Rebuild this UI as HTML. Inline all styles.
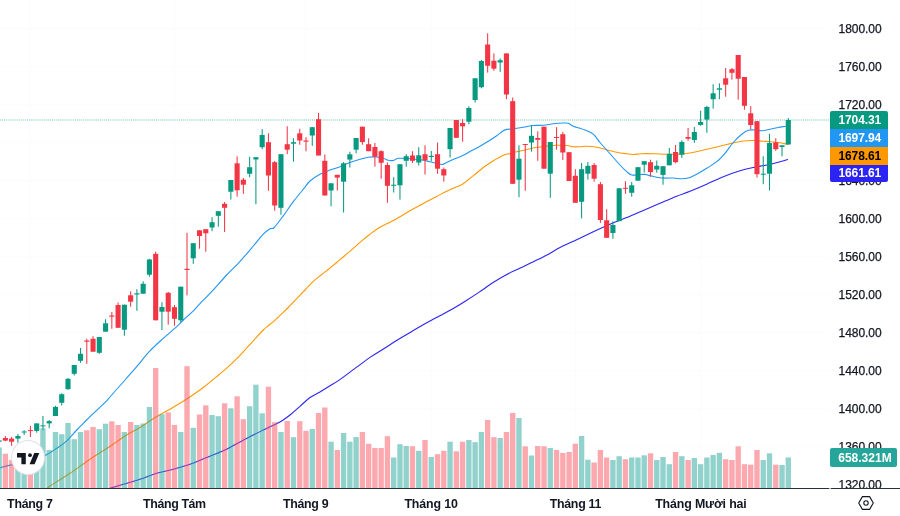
<!DOCTYPE html>
<html lang="vi"><head><meta charset="utf-8"><title>Chart</title>
<style>
html,body{margin:0;padding:0;background:#fff}
body{width:900px;height:516px;position:relative;overflow:hidden;font-family:"Liberation Sans",sans-serif;font-size:12px;color:#131722}
.pl{position:absolute;left:838.6px;width:44px;height:16px;line-height:16px;white-space:nowrap;letter-spacing:-0.07px;-webkit-text-stroke:0.25px #131722}
.tag{position:absolute;left:829.6px;width:58.4px;box-sizing:border-box;padding-left:8.9px;font-weight:bold;color:#fff;white-space:nowrap;letter-spacing:-0.12px;padding-top:0.4px}
.tl{position:absolute;top:495.6px;height:16px;line-height:16px;font-size:12.4px;font-weight:bold;white-space:nowrap;transform:translateX(-50%);letter-spacing:-0.25px}
#bottom{position:absolute;left:0;top:488px;width:900px;height:28px;background:#fff;border-top:1px solid #2A2E39;box-sizing:border-box}
#logo{position:absolute;left:11px;top:440.2px;width:34.4px;height:35px;border-radius:50%;background:#fff;box-sizing:border-box;border:1.5px solid #E0E0EC}
</style></head><body>
<svg width="900" height="516" viewBox="0 0 900 516" style="position:absolute;left:0;top:0;display:block">
<g stroke="#FBFCFE" stroke-width="1.04">
<line x1="0" y1="28.8" x2="830" y2="28.8"/>
<line x1="0" y1="66.8" x2="830" y2="66.8"/>
<line x1="0" y1="104.8" x2="830" y2="104.8"/>
<line x1="0" y1="142.8" x2="830" y2="142.8"/>
<line x1="0" y1="180.8" x2="830" y2="180.8"/>
<line x1="0" y1="218.8" x2="830" y2="218.8"/>
<line x1="0" y1="256.8" x2="830" y2="256.8"/>
<line x1="0" y1="294.8" x2="830" y2="294.8"/>
<line x1="0" y1="332.8" x2="830" y2="332.8"/>
<line x1="0" y1="370.8" x2="830" y2="370.8"/>
<line x1="0" y1="408.8" x2="830" y2="408.8"/>
<line x1="0" y1="446.8" x2="830" y2="446.8"/>
<line x1="0" y1="484.8" x2="830" y2="484.8"/>
<line x1="29.9" y1="0" x2="29.9" y2="488"/>
<line x1="174.4" y1="0" x2="174.4" y2="488"/>
<line x1="305.7" y1="0" x2="305.7" y2="488"/>
<line x1="431.1" y1="0" x2="431.1" y2="488"/>
<line x1="575.4" y1="0" x2="575.4" y2="488"/>
<line x1="700.9" y1="0" x2="700.9" y2="488"/>
</g>
<line x1="0" y1="120" x2="830" y2="120" stroke="#089981" stroke-width="1.5" stroke-dasharray="1.04 1.04" opacity="0.4"/>
<path d="M109.0 488.5C109.2 488.5 107.6 489.0 110.0 488.3C112.4 487.6 118.3 485.7 123.3 484.2C128.3 482.7 134.4 481.0 140.0 479.2C145.6 477.4 151.1 475.0 156.7 473.3C162.2 471.6 167.8 470.7 173.3 469.2C178.9 467.7 184.4 466.1 190.0 464.2C195.6 462.2 201.1 459.7 206.7 457.5C212.2 455.3 219.0 452.7 223.3 450.8C227.6 448.9 228.3 448.2 232.5 446.0C236.7 443.8 242.9 440.3 248.3 437.5C253.7 434.7 259.7 431.8 265.0 429.2C270.3 426.6 275.8 424.4 280.0 422.0C284.2 419.6 286.7 417.6 290.0 415.0C293.3 412.4 296.7 409.2 300.0 406.3C303.3 403.4 306.7 399.9 310.0 397.5C313.3 395.1 316.7 393.9 320.0 392.0C323.3 390.1 326.8 387.8 330.0 385.8C333.2 383.8 335.0 383.0 339.5 379.9C344.0 376.8 351.9 370.7 357.1 366.9C362.3 363.1 366.2 360.0 370.7 356.9C375.2 353.8 379.7 351.4 384.2 348.5C388.7 345.6 393.3 342.6 397.8 339.8C402.3 337.0 406.9 334.4 411.4 331.7C415.9 329.0 420.4 326.3 424.9 323.8C429.4 321.3 434.0 318.9 438.5 316.5C443.0 314.1 447.5 311.8 452.0 309.2C456.5 306.6 461.1 303.9 465.6 301.0C470.1 298.1 474.7 295.1 479.2 292.1C483.7 289.1 488.2 285.7 492.7 282.8C497.2 279.9 501.8 277.1 506.3 274.7C510.8 272.3 515.3 270.4 519.8 268.2C524.3 266.0 528.9 263.9 533.4 261.7C537.9 259.5 542.5 257.3 547.0 254.9C551.5 252.5 555.5 249.8 560.5 247.3C565.5 244.8 571.2 242.3 576.7 239.7C582.2 237.1 587.8 234.3 593.3 231.7C598.8 229.1 604.4 226.6 610.0 224.2C615.6 221.8 621.2 219.8 626.7 217.5C632.2 215.2 637.8 212.9 643.3 210.5C648.8 208.1 654.4 205.7 660.0 203.3C665.6 200.9 671.7 198.2 676.7 196.2C681.7 194.2 685.0 193.2 690.0 191.2C695.0 189.2 701.2 186.6 706.7 184.2C712.2 181.8 717.8 178.9 723.3 176.7C728.8 174.5 735.0 172.3 740.0 170.8C745.0 169.3 748.8 168.5 753.3 167.5C757.8 166.5 762.5 165.9 766.7 165.0C770.9 164.1 774.8 163.1 778.3 162.2C781.8 161.3 786.4 159.9 788.0 159.5" fill="none" stroke="#2B24F5" stroke-width="1.1" stroke-linejoin="round"/>
<path d="M47.5 488.5C47.9 488.1 46.2 488.5 50.0 486.0C53.8 483.5 63.3 477.8 70.0 473.3C76.7 468.8 83.6 463.5 90.0 459.2C96.4 454.9 102.2 451.5 108.3 447.5C114.4 443.5 121.4 438.3 126.7 435.0C132.0 431.7 135.8 430.1 140.0 427.5C144.2 424.9 148.1 422.0 151.7 419.7C155.3 417.4 158.1 415.8 161.7 413.7C165.3 411.6 168.9 409.8 173.3 407.2C177.7 404.6 183.3 401.3 188.3 398.0C193.3 394.7 198.6 391.1 203.3 387.5C208.0 383.9 212.5 380.2 216.7 376.7C220.9 373.2 224.4 370.3 228.3 366.7C232.2 363.1 236.9 358.4 240.0 355.3C243.1 352.2 244.2 350.8 246.7 348.0C249.2 345.2 252.2 341.8 255.0 338.8C257.8 335.8 261.2 332.1 263.3 330.0C265.4 327.9 265.8 327.7 267.5 326.3C269.2 324.9 271.2 323.5 273.3 321.7C275.4 319.9 277.5 317.7 280.0 315.3C282.5 312.9 285.5 310.3 288.3 307.5C291.1 304.7 293.9 301.6 296.7 298.7C299.5 295.8 302.2 292.9 305.0 290.0C307.8 287.1 310.5 283.9 313.3 281.3C316.1 278.7 319.2 276.5 321.7 274.5C324.2 272.5 326.0 271.3 328.5 269.3C331.0 267.3 333.9 264.8 336.7 262.5C339.4 260.2 342.2 257.9 345.0 255.5C347.8 253.1 350.5 250.8 353.3 248.3C356.1 245.9 358.9 243.2 361.7 240.8C364.5 238.5 367.2 236.3 370.0 234.2C372.8 232.1 375.5 230.0 378.3 228.3C381.1 226.6 383.9 225.2 386.7 223.8C389.5 222.4 392.2 221.2 395.0 219.7C397.8 218.2 400.5 216.4 403.3 214.7C406.1 213.0 408.9 211.3 411.7 209.7C414.5 208.1 417.2 206.8 420.0 205.3C422.8 203.8 425.5 202.3 428.3 200.8C431.1 199.3 433.6 198.1 436.7 196.5C439.8 194.9 443.6 192.8 446.7 191.3C449.8 189.8 452.5 188.6 455.0 187.5C457.5 186.4 459.5 186.0 461.7 184.7C463.9 183.4 465.8 181.6 468.3 179.7C470.8 177.8 473.9 175.2 476.7 173.0C479.5 170.8 482.2 168.3 485.0 166.3C487.8 164.3 490.8 162.4 493.3 160.8C495.8 159.2 498.1 157.9 500.0 156.9C501.9 155.9 503.3 155.2 505.0 154.6C506.7 154.0 508.1 154.1 510.0 153.6C511.9 153.1 514.2 152.4 516.7 151.8C519.2 151.2 522.2 150.6 525.0 150.0C527.8 149.4 530.8 148.5 533.3 148.0C535.8 147.5 537.5 147.3 540.0 147.0C542.5 146.7 545.3 146.3 548.0 146.0C550.7 145.7 552.9 145.4 556.0 145.3C559.1 145.2 563.8 145.2 566.7 145.5C569.6 145.8 571.1 146.6 573.3 146.8C575.5 147.0 577.8 146.8 580.0 146.7C582.2 146.6 583.9 146.1 586.7 146.2C589.5 146.3 593.4 146.6 596.7 147.2C600.0 147.8 603.4 148.9 606.7 149.7C610.0 150.5 613.4 151.5 616.7 152.2C620.0 152.9 623.9 153.4 626.7 153.8C629.5 154.2 630.8 154.5 633.3 154.5C635.8 154.5 638.4 153.8 641.7 153.7C645.0 153.6 649.1 153.6 653.3 153.7C657.5 153.8 662.5 154.1 666.7 154.2C670.9 154.3 674.4 154.4 678.3 154.2C682.2 154.0 686.1 153.6 690.0 153.0C693.9 152.4 697.8 151.4 701.7 150.5C705.6 149.6 709.1 148.8 713.3 147.8C717.5 146.8 722.8 145.4 726.7 144.5C730.6 143.6 733.4 142.8 736.7 142.2C740.0 141.6 743.7 141.1 746.7 140.8C749.8 140.5 752.2 140.4 755.0 140.5C757.8 140.6 760.5 141.0 763.3 141.2C766.1 141.4 768.9 141.4 771.7 141.7C774.5 141.9 777.5 142.3 780.0 142.7C782.5 143.1 785.4 143.9 786.7 144.2C788.0 144.5 787.8 144.4 788.0 144.5" fill="none" stroke="#FF9800" stroke-width="1.1" stroke-linejoin="round"/>
<path d="M0.0 467.8C1.9 467.3 6.6 466.0 11.6 464.9C16.6 463.8 24.3 462.6 30.0 461.0C35.7 459.4 41.4 457.1 45.9 455.0C50.4 452.9 53.2 450.7 56.7 448.3C60.2 445.9 63.4 443.9 66.7 440.8C70.0 437.8 73.4 433.5 76.7 430.0C80.0 426.5 83.4 423.3 86.7 420.0C90.0 416.7 93.4 413.5 96.7 410.3C100.0 407.1 104.4 403.2 106.7 400.8C109.0 398.4 107.8 399.5 110.8 396.0C113.8 392.5 120.7 384.9 125.0 380.0C129.3 375.1 132.7 371.4 136.7 366.7C140.7 362.0 144.8 356.4 149.2 351.7C153.6 347.0 158.7 342.5 163.3 338.3C167.9 334.1 173.4 329.8 176.7 326.7C180.0 323.6 180.5 322.6 183.3 320.0C186.1 317.4 190.5 313.5 193.3 310.8C196.1 308.1 196.9 306.8 200.0 303.6C203.1 300.4 207.2 296.5 211.7 291.7C216.1 286.9 222.3 279.7 226.7 275.0C231.1 270.3 234.4 267.5 238.3 263.3C242.2 259.1 247.5 252.9 250.0 250.0C252.5 247.1 251.1 248.6 253.3 246.0C255.5 243.4 260.5 237.1 263.3 234.2C266.1 231.3 268.2 229.8 270.0 228.7C271.8 227.6 272.0 229.7 274.2 227.5C276.4 225.3 280.1 220.1 283.3 215.8C286.5 211.5 290.0 206.1 293.3 201.7C296.6 197.3 300.5 192.6 303.3 189.2C306.1 185.8 307.2 183.5 310.0 181.0C312.8 178.5 316.7 176.1 320.0 174.3C323.3 172.5 326.7 171.3 330.0 170.0C333.3 168.7 336.7 167.9 340.0 166.7C343.3 165.4 346.7 163.8 350.0 162.5C353.3 161.2 356.9 160.1 360.0 159.2C363.1 158.3 365.5 157.6 368.3 157.2C371.1 156.8 374.2 156.8 376.7 157.0C379.2 157.2 381.4 157.8 383.3 158.3C385.2 158.9 386.6 159.9 388.3 160.3C390.0 160.7 391.6 160.8 393.3 160.5C395.0 160.2 395.5 158.6 398.3 158.3C401.1 158.0 406.4 158.5 410.0 158.7C413.6 158.9 416.7 159.2 420.0 159.7C423.3 160.2 427.2 161.1 430.0 161.7C432.8 162.3 434.6 162.9 436.7 163.4C438.8 163.9 440.8 164.6 442.5 164.4C444.2 164.2 444.6 163.4 446.7 162.5C448.8 161.6 452.2 159.9 455.0 158.7C457.8 157.5 460.5 156.7 463.3 155.3C466.1 154.0 468.9 152.1 471.7 150.6C474.5 149.1 477.2 147.8 480.0 146.2C482.8 144.6 485.5 143.0 488.3 141.3C491.1 139.6 494.3 137.5 496.7 135.8C499.1 134.1 500.9 132.4 502.5 131.3C504.1 130.2 504.7 129.8 506.5 129.4C508.3 129.0 510.5 129.2 513.3 128.8C516.1 128.4 520.0 127.8 523.3 127.2C526.6 126.7 530.0 125.8 533.3 125.5C536.6 125.2 540.0 125.6 543.3 125.3C546.6 125.0 550.0 124.2 553.3 123.8C556.6 123.4 560.8 123.1 563.3 123.0C565.8 122.9 566.6 122.8 568.3 123.3C570.0 123.8 571.3 125.5 573.3 126.3C575.2 127.1 578.0 127.7 580.0 128.3C582.0 128.9 582.8 129.0 585.0 130.0C587.2 131.0 590.8 132.1 593.3 134.2C595.8 136.3 597.8 139.9 600.0 142.5C602.2 145.1 604.5 147.5 606.7 150.0C608.9 152.5 611.1 155.0 613.3 157.5C615.5 160.0 617.8 162.6 620.0 165.0C622.2 167.4 624.8 170.0 626.7 171.7C628.7 173.4 629.8 174.5 631.7 175.0C633.6 175.5 636.1 174.8 638.3 174.7C640.5 174.6 643.0 174.2 645.0 174.4C647.0 174.6 647.2 175.0 650.0 175.6C652.8 176.2 657.8 177.6 661.7 178.0C665.6 178.4 670.0 177.9 673.3 178.0C676.6 178.1 679.2 178.8 681.7 178.8C684.2 178.8 685.8 178.8 688.3 178.0C690.8 177.2 693.6 175.8 696.7 174.2C699.8 172.6 703.4 170.4 706.7 168.3C710.0 166.2 713.7 164.2 716.7 161.7C719.8 159.2 722.2 156.5 725.0 153.3C727.8 150.1 730.5 145.7 733.3 142.5C736.1 139.3 739.2 136.2 741.7 134.2C744.2 132.2 746.1 131.0 748.3 130.3C750.5 129.6 752.8 129.9 755.0 130.0C757.2 130.1 759.2 130.9 761.7 130.8C764.2 130.7 767.2 129.8 770.0 129.2C772.8 128.6 775.7 128.0 778.3 127.5C780.9 127.0 784.2 126.5 785.8 126.2C787.4 125.9 787.6 125.9 788.0 125.8" fill="none" stroke="#2196F3" stroke-width="1.1" stroke-linejoin="round"/>
<g>
<rect x="-1.42" y="439.5" width="1.04" height="3.0" fill="#089981"/>
<rect x="-3.45" y="440.4" width="5.1" height="1.3" fill="#089981"/>
<rect x="4.84" y="436.0" width="1.04" height="5.3" fill="#F23645"/>
<rect x="2.81" y="438.0" width="5.1" height="2.6" fill="#F23645"/>
<rect x="11.10" y="437.0" width="1.04" height="8.8" fill="#F23645"/>
<rect x="9.07" y="438.6" width="5.1" height="3.1" fill="#F23645"/>
<rect x="17.37" y="434.0" width="1.04" height="8.7" fill="#089981"/>
<rect x="15.34" y="436.0" width="5.1" height="2.6" fill="#089981"/>
<rect x="23.63" y="430.2" width="1.04" height="4.8" fill="#089981"/>
<rect x="21.60" y="431.5" width="5.1" height="1.0" fill="#089981"/>
<rect x="29.89" y="425.9" width="1.04" height="11.1" fill="#F23645"/>
<rect x="27.86" y="430.1" width="5.1" height="1.0" fill="#F23645"/>
<rect x="36.16" y="423.4" width="1.04" height="9.2" fill="#089981"/>
<rect x="34.13" y="423.4" width="5.1" height="7.5" fill="#089981"/>
<rect x="42.42" y="416.0" width="1.04" height="14.2" fill="#089981"/>
<rect x="40.39" y="425.4" width="5.1" height="1.0" fill="#089981"/>
<rect x="48.68" y="420.0" width="1.04" height="8.2" fill="#089981"/>
<rect x="46.65" y="421.1" width="5.1" height="2.3" fill="#089981"/>
<rect x="54.95" y="405.8" width="1.04" height="10.2" fill="#089981"/>
<rect x="52.92" y="406.9" width="5.1" height="9.1" fill="#089981"/>
<rect x="61.21" y="393.3" width="1.04" height="12.2" fill="#089981"/>
<rect x="59.18" y="394.2" width="5.1" height="8.6" fill="#089981"/>
<rect x="67.48" y="378.0" width="1.04" height="11.7" fill="#089981"/>
<rect x="65.45" y="378.8" width="5.1" height="10.4" fill="#089981"/>
<rect x="73.74" y="365.0" width="1.04" height="10.5" fill="#089981"/>
<rect x="71.71" y="365.0" width="5.1" height="8.8" fill="#089981"/>
<rect x="80.00" y="348.0" width="1.04" height="14.8" fill="#089981"/>
<rect x="77.97" y="353.8" width="5.1" height="7.0" fill="#089981"/>
<rect x="86.27" y="338.8" width="1.04" height="25.0" fill="#F23645"/>
<rect x="84.24" y="340.5" width="5.1" height="1.2" fill="#F23645"/>
<rect x="92.53" y="336.2" width="1.04" height="15.5" fill="#F23645"/>
<rect x="90.50" y="338.8" width="5.1" height="12.9" fill="#F23645"/>
<rect x="98.79" y="337.0" width="1.04" height="16.8" fill="#089981"/>
<rect x="96.76" y="337.0" width="5.1" height="15.8" fill="#089981"/>
<rect x="105.06" y="319.2" width="1.04" height="12.5" fill="#089981"/>
<rect x="103.03" y="323.3" width="5.1" height="8.4" fill="#089981"/>
<rect x="111.32" y="312.0" width="1.04" height="16.8" fill="#F23645"/>
<rect x="109.29" y="315.5" width="5.1" height="1.2" fill="#F23645"/>
<rect x="117.58" y="302.5" width="1.04" height="25.3" fill="#F23645"/>
<rect x="115.55" y="305.0" width="5.1" height="22.8" fill="#F23645"/>
<rect x="123.85" y="304.7" width="1.04" height="31.1" fill="#089981"/>
<rect x="121.82" y="304.7" width="5.1" height="25.0" fill="#089981"/>
<rect x="130.11" y="291.3" width="1.04" height="15.4" fill="#F23645"/>
<rect x="128.08" y="295.3" width="5.1" height="6.4" fill="#F23645"/>
<rect x="136.37" y="289.2" width="1.04" height="21.6" fill="#089981"/>
<rect x="134.34" y="293.3" width="5.1" height="1.2" fill="#089981"/>
<rect x="142.64" y="281.3" width="1.04" height="12.4" fill="#089981"/>
<rect x="140.61" y="283.8" width="5.1" height="9.9" fill="#089981"/>
<rect x="148.90" y="258.8" width="1.04" height="17.9" fill="#089981"/>
<rect x="146.87" y="259.5" width="5.1" height="15.2" fill="#089981"/>
<rect x="155.16" y="251.7" width="1.04" height="68.6" fill="#F23645"/>
<rect x="153.13" y="253.8" width="5.1" height="66.5" fill="#F23645"/>
<rect x="161.43" y="302.2" width="1.04" height="27.8" fill="#089981"/>
<rect x="159.40" y="307.0" width="5.1" height="4.7" fill="#089981"/>
<rect x="167.69" y="292.0" width="1.04" height="32.7" fill="#F23645"/>
<rect x="165.66" y="292.8" width="5.1" height="18.9" fill="#F23645"/>
<rect x="173.95" y="305.0" width="1.04" height="20.8" fill="#F23645"/>
<rect x="171.92" y="307.2" width="5.1" height="11.6" fill="#F23645"/>
<rect x="180.22" y="286.7" width="1.04" height="35.3" fill="#089981"/>
<rect x="178.19" y="286.7" width="5.1" height="33.6" fill="#089981"/>
<rect x="186.48" y="232.8" width="1.04" height="62.5" fill="#F23645"/>
<rect x="184.45" y="268.8" width="5.1" height="1.2" fill="#F23645"/>
<rect x="192.75" y="243.2" width="1.04" height="20.6" fill="#089981"/>
<rect x="190.72" y="243.2" width="5.1" height="15.1" fill="#089981"/>
<rect x="199.01" y="230.3" width="1.04" height="18.4" fill="#F23645"/>
<rect x="196.98" y="230.3" width="5.1" height="5.7" fill="#F23645"/>
<rect x="205.27" y="229.2" width="1.04" height="22.5" fill="#F23645"/>
<rect x="203.24" y="229.2" width="5.1" height="4.1" fill="#F23645"/>
<rect x="211.54" y="217.2" width="1.04" height="14.0" fill="#089981"/>
<rect x="209.51" y="222.2" width="5.1" height="5.3" fill="#089981"/>
<rect x="217.80" y="211.2" width="1.04" height="15.5" fill="#089981"/>
<rect x="215.77" y="211.2" width="5.1" height="4.6" fill="#089981"/>
<rect x="224.06" y="202.0" width="1.04" height="30.0" fill="#F23645"/>
<rect x="222.03" y="203.8" width="5.1" height="4.0" fill="#F23645"/>
<rect x="230.33" y="180.0" width="1.04" height="19.5" fill="#089981"/>
<rect x="228.30" y="180.0" width="5.1" height="11.7" fill="#089981"/>
<rect x="236.59" y="156.3" width="1.04" height="40.4" fill="#F23645"/>
<rect x="234.56" y="163.3" width="5.1" height="27.0" fill="#F23645"/>
<rect x="242.85" y="178.0" width="1.04" height="15.8" fill="#F23645"/>
<rect x="240.82" y="179.7" width="5.1" height="5.0" fill="#F23645"/>
<rect x="249.12" y="156.7" width="1.04" height="20.5" fill="#089981"/>
<rect x="247.09" y="167.2" width="5.1" height="6.6" fill="#089981"/>
<rect x="255.38" y="157.2" width="1.04" height="47.0" fill="#089981"/>
<rect x="253.35" y="157.2" width="5.1" height="2.3" fill="#089981"/>
<rect x="261.64" y="129.2" width="1.04" height="20.0" fill="#089981"/>
<rect x="259.61" y="135.0" width="5.1" height="12.2" fill="#089981"/>
<rect x="267.91" y="133.3" width="1.04" height="57.5" fill="#F23645"/>
<rect x="265.88" y="142.2" width="5.1" height="33.3" fill="#F23645"/>
<rect x="274.17" y="161.0" width="1.04" height="49.8" fill="#F23645"/>
<rect x="272.14" y="162.2" width="5.1" height="43.3" fill="#F23645"/>
<rect x="280.43" y="154.2" width="1.04" height="60.5" fill="#089981"/>
<rect x="278.40" y="154.2" width="5.1" height="53.6" fill="#089981"/>
<rect x="286.70" y="126.3" width="1.04" height="27.9" fill="#F23645"/>
<rect x="284.67" y="144.2" width="5.1" height="5.5" fill="#F23645"/>
<rect x="292.96" y="138.3" width="1.04" height="23.4" fill="#089981"/>
<rect x="290.93" y="142.2" width="5.1" height="1.5" fill="#089981"/>
<rect x="299.22" y="128.8" width="1.04" height="15.9" fill="#F23645"/>
<rect x="297.19" y="133.3" width="5.1" height="7.2" fill="#F23645"/>
<rect x="305.49" y="137.2" width="1.04" height="14.1" fill="#F23645"/>
<rect x="303.46" y="140.5" width="5.1" height="1.2" fill="#F23645"/>
<rect x="311.75" y="127.2" width="1.04" height="18.6" fill="#089981"/>
<rect x="309.72" y="127.2" width="5.1" height="8.3" fill="#089981"/>
<rect x="318.01" y="112.8" width="1.04" height="42.7" fill="#F23645"/>
<rect x="315.98" y="119.2" width="5.1" height="36.3" fill="#F23645"/>
<rect x="324.28" y="154.5" width="1.04" height="41.0" fill="#F23645"/>
<rect x="322.25" y="160.8" width="5.1" height="34.7" fill="#F23645"/>
<rect x="330.54" y="183.3" width="1.04" height="23.0" fill="#089981"/>
<rect x="328.51" y="183.3" width="5.1" height="7.2" fill="#089981"/>
<rect x="336.81" y="174.8" width="1.04" height="15.7" fill="#F23645"/>
<rect x="334.78" y="174.8" width="5.1" height="2.8" fill="#F23645"/>
<rect x="343.07" y="162.0" width="1.04" height="50.5" fill="#089981"/>
<rect x="341.04" y="163.3" width="5.1" height="18.4" fill="#089981"/>
<rect x="349.33" y="151.7" width="1.04" height="15.8" fill="#089981"/>
<rect x="347.30" y="154.3" width="5.1" height="5.3" fill="#089981"/>
<rect x="355.60" y="138.0" width="1.04" height="15.3" fill="#089981"/>
<rect x="353.57" y="138.0" width="5.1" height="11.7" fill="#089981"/>
<rect x="361.86" y="126.7" width="1.04" height="18.1" fill="#F23645"/>
<rect x="359.83" y="126.7" width="5.1" height="15.4" fill="#F23645"/>
<rect x="368.12" y="138.3" width="1.04" height="12.9" fill="#F23645"/>
<rect x="366.09" y="144.2" width="5.1" height="7.0" fill="#F23645"/>
<rect x="374.39" y="143.0" width="1.04" height="23.7" fill="#F23645"/>
<rect x="372.36" y="147.0" width="5.1" height="9.7" fill="#F23645"/>
<rect x="380.65" y="150.3" width="1.04" height="28.5" fill="#F23645"/>
<rect x="378.62" y="151.2" width="5.1" height="11.6" fill="#F23645"/>
<rect x="386.91" y="162.5" width="1.04" height="40.3" fill="#F23645"/>
<rect x="384.88" y="165.0" width="5.1" height="20.8" fill="#F23645"/>
<rect x="393.18" y="177.2" width="1.04" height="15.3" fill="#089981"/>
<rect x="391.15" y="184.7" width="5.1" height="1.1" fill="#089981"/>
<rect x="399.44" y="164.2" width="1.04" height="35.5" fill="#089981"/>
<rect x="397.41" y="164.2" width="5.1" height="21.1" fill="#089981"/>
<rect x="405.70" y="154.2" width="1.04" height="12.5" fill="#089981"/>
<rect x="403.67" y="156.2" width="5.1" height="4.6" fill="#089981"/>
<rect x="411.97" y="151.2" width="1.04" height="11.8" fill="#F23645"/>
<rect x="409.94" y="155.5" width="5.1" height="5.3" fill="#F23645"/>
<rect x="418.23" y="147.2" width="1.04" height="18.3" fill="#089981"/>
<rect x="416.20" y="155.3" width="5.1" height="7.2" fill="#089981"/>
<rect x="424.49" y="145.3" width="1.04" height="29.2" fill="#F23645"/>
<rect x="422.46" y="154.2" width="5.1" height="6.1" fill="#F23645"/>
<rect x="430.76" y="151.0" width="1.04" height="10.3" fill="#089981"/>
<rect x="428.73" y="155.8" width="5.1" height="1.2" fill="#089981"/>
<rect x="437.02" y="142.6" width="1.04" height="31.2" fill="#F23645"/>
<rect x="434.99" y="154.2" width="5.1" height="14.5" fill="#F23645"/>
<rect x="443.29" y="167.5" width="1.04" height="14.2" fill="#F23645"/>
<rect x="441.25" y="169.2" width="5.1" height="6.3" fill="#F23645"/>
<rect x="449.55" y="128.0" width="1.04" height="29.5" fill="#089981"/>
<rect x="447.52" y="128.0" width="5.1" height="21.2" fill="#089981"/>
<rect x="455.81" y="120.0" width="1.04" height="17.8" fill="#F23645"/>
<rect x="453.78" y="120.0" width="5.1" height="17.8" fill="#F23645"/>
<rect x="462.08" y="119.2" width="1.04" height="22.5" fill="#F23645"/>
<rect x="460.05" y="123.0" width="5.1" height="3.3" fill="#F23645"/>
<rect x="468.34" y="106.3" width="1.04" height="17.9" fill="#089981"/>
<rect x="466.31" y="108.0" width="5.1" height="13.7" fill="#089981"/>
<rect x="474.60" y="78.3" width="1.04" height="24.2" fill="#089981"/>
<rect x="472.57" y="78.3" width="5.1" height="21.7" fill="#089981"/>
<rect x="480.87" y="59.9" width="1.04" height="28.4" fill="#089981"/>
<rect x="478.84" y="61.0" width="5.1" height="26.2" fill="#089981"/>
<rect x="487.13" y="33.3" width="1.04" height="39.3" fill="#F23645"/>
<rect x="485.10" y="44.5" width="5.1" height="21.3" fill="#F23645"/>
<rect x="493.39" y="53.4" width="1.04" height="17.4" fill="#F23645"/>
<rect x="491.36" y="60.7" width="5.1" height="8.0" fill="#F23645"/>
<rect x="499.66" y="58.4" width="1.04" height="13.5" fill="#089981"/>
<rect x="497.63" y="60.2" width="5.1" height="2.3" fill="#089981"/>
<rect x="505.92" y="53.4" width="1.04" height="45.8" fill="#F23645"/>
<rect x="503.89" y="53.4" width="5.1" height="41.1" fill="#F23645"/>
<rect x="512.18" y="97.5" width="1.04" height="86.3" fill="#F23645"/>
<rect x="510.15" y="101.2" width="5.1" height="82.6" fill="#F23645"/>
<rect x="518.45" y="145.3" width="1.04" height="51.9" fill="#089981"/>
<rect x="516.42" y="158.7" width="5.1" height="21.0" fill="#089981"/>
<rect x="524.71" y="144.0" width="1.04" height="46.8" fill="#F23645"/>
<rect x="522.68" y="144.0" width="5.1" height="1.0" fill="#F23645"/>
<rect x="530.97" y="125.3" width="1.04" height="26.4" fill="#089981"/>
<rect x="528.94" y="135.8" width="5.1" height="6.7" fill="#089981"/>
<rect x="537.24" y="131.3" width="1.04" height="29.5" fill="#F23645"/>
<rect x="535.21" y="138.0" width="5.1" height="1.8" fill="#F23645"/>
<rect x="543.50" y="126.7" width="1.04" height="42.0" fill="#F23645"/>
<rect x="541.47" y="126.7" width="5.1" height="42.0" fill="#F23645"/>
<rect x="549.76" y="142.0" width="1.04" height="55.8" fill="#089981"/>
<rect x="547.73" y="142.0" width="5.1" height="31.7" fill="#089981"/>
<rect x="556.03" y="127.2" width="1.04" height="22.5" fill="#F23645"/>
<rect x="554.00" y="137.0" width="5.1" height="1.0" fill="#F23645"/>
<rect x="562.29" y="132.0" width="1.04" height="28.0" fill="#F23645"/>
<rect x="560.26" y="134.2" width="5.1" height="18.3" fill="#F23645"/>
<rect x="568.55" y="152.2" width="1.04" height="28.8" fill="#F23645"/>
<rect x="566.52" y="152.2" width="5.1" height="28.8" fill="#F23645"/>
<rect x="574.82" y="169.2" width="1.04" height="33.6" fill="#F23645"/>
<rect x="572.79" y="175.8" width="5.1" height="27.0" fill="#F23645"/>
<rect x="581.08" y="163.0" width="1.04" height="55.3" fill="#089981"/>
<rect x="579.05" y="169.2" width="5.1" height="32.6" fill="#089981"/>
<rect x="587.35" y="162.0" width="1.04" height="17.6" fill="#089981"/>
<rect x="585.32" y="165.8" width="5.1" height="7.9" fill="#089981"/>
<rect x="593.61" y="163.0" width="1.04" height="18.7" fill="#F23645"/>
<rect x="591.58" y="165.0" width="5.1" height="13.7" fill="#F23645"/>
<rect x="599.87" y="182.0" width="1.04" height="41.0" fill="#F23645"/>
<rect x="597.84" y="184.2" width="5.1" height="35.8" fill="#F23645"/>
<rect x="606.14" y="209.2" width="1.04" height="28.6" fill="#F23645"/>
<rect x="604.11" y="220.3" width="5.1" height="17.5" fill="#F23645"/>
<rect x="612.40" y="221.3" width="1.04" height="17.5" fill="#089981"/>
<rect x="610.37" y="225.0" width="5.1" height="8.0" fill="#089981"/>
<rect x="618.66" y="188.3" width="1.04" height="32.9" fill="#089981"/>
<rect x="616.63" y="188.3" width="5.1" height="32.9" fill="#089981"/>
<rect x="624.93" y="181.3" width="1.04" height="12.5" fill="#F23645"/>
<rect x="622.90" y="187.8" width="5.1" height="1.0" fill="#F23645"/>
<rect x="631.19" y="182.0" width="1.04" height="14.7" fill="#089981"/>
<rect x="629.16" y="185.3" width="5.1" height="7.5" fill="#089981"/>
<rect x="637.45" y="167.2" width="1.04" height="13.5" fill="#089981"/>
<rect x="635.42" y="167.2" width="5.1" height="13.5" fill="#089981"/>
<rect x="643.72" y="161.2" width="1.04" height="11.3" fill="#089981"/>
<rect x="641.69" y="161.2" width="5.1" height="3.5" fill="#089981"/>
<rect x="649.98" y="159.7" width="1.04" height="17.0" fill="#F23645"/>
<rect x="647.95" y="162.2" width="5.1" height="9.9" fill="#F23645"/>
<rect x="656.24" y="160.5" width="1.04" height="12.2" fill="#089981"/>
<rect x="654.21" y="165.8" width="5.1" height="3.7" fill="#089981"/>
<rect x="662.51" y="166.2" width="1.04" height="18.5" fill="#089981"/>
<rect x="660.48" y="166.2" width="5.1" height="8.7" fill="#089981"/>
<rect x="668.77" y="148.0" width="1.04" height="17.3" fill="#089981"/>
<rect x="666.74" y="153.8" width="5.1" height="11.5" fill="#089981"/>
<rect x="675.03" y="145.0" width="1.04" height="18.3" fill="#F23645"/>
<rect x="673.00" y="152.0" width="5.1" height="10.2" fill="#F23645"/>
<rect x="681.30" y="140.3" width="1.04" height="17.5" fill="#089981"/>
<rect x="679.27" y="142.0" width="5.1" height="12.7" fill="#089981"/>
<rect x="687.56" y="128.0" width="1.04" height="12.8" fill="#F23645"/>
<rect x="685.53" y="137.0" width="5.1" height="1.7" fill="#F23645"/>
<rect x="693.83" y="127.0" width="1.04" height="15.8" fill="#089981"/>
<rect x="691.80" y="132.0" width="5.1" height="8.0" fill="#089981"/>
<rect x="700.09" y="110.8" width="1.04" height="15.0" fill="#089981"/>
<rect x="698.06" y="122.0" width="5.1" height="2.9" fill="#089981"/>
<rect x="706.35" y="105.8" width="1.04" height="27.0" fill="#089981"/>
<rect x="704.32" y="107.0" width="5.1" height="12.6" fill="#089981"/>
<rect x="712.62" y="84.2" width="1.04" height="24.5" fill="#089981"/>
<rect x="710.59" y="93.3" width="5.1" height="5.9" fill="#089981"/>
<rect x="718.88" y="83.3" width="1.04" height="15.9" fill="#089981"/>
<rect x="716.85" y="88.3" width="5.1" height="1.4" fill="#089981"/>
<rect x="725.14" y="68.0" width="1.04" height="28.7" fill="#F23645"/>
<rect x="723.11" y="78.3" width="5.1" height="6.4" fill="#F23645"/>
<rect x="731.41" y="68.0" width="1.04" height="11.7" fill="#F23645"/>
<rect x="729.38" y="69.2" width="5.1" height="3.6" fill="#F23645"/>
<rect x="737.67" y="55.0" width="1.04" height="44.7" fill="#F23645"/>
<rect x="735.64" y="55.0" width="5.1" height="23.7" fill="#F23645"/>
<rect x="743.93" y="77.0" width="1.04" height="32.7" fill="#F23645"/>
<rect x="741.90" y="77.0" width="5.1" height="28.8" fill="#F23645"/>
<rect x="750.20" y="106.2" width="1.04" height="23.0" fill="#F23645"/>
<rect x="748.17" y="113.3" width="5.1" height="11.7" fill="#F23645"/>
<rect x="756.46" y="121.2" width="1.04" height="56.3" fill="#F23645"/>
<rect x="754.43" y="121.2" width="5.1" height="53.0" fill="#F23645"/>
<rect x="762.72" y="156.3" width="1.04" height="27.9" fill="#089981"/>
<rect x="760.69" y="173.7" width="5.1" height="1.0" fill="#089981"/>
<rect x="768.99" y="133.8" width="1.04" height="56.7" fill="#089981"/>
<rect x="766.96" y="143.0" width="5.1" height="30.7" fill="#089981"/>
<rect x="775.25" y="138.3" width="1.04" height="12.5" fill="#F23645"/>
<rect x="773.22" y="142.5" width="5.1" height="6.7" fill="#F23645"/>
<rect x="781.51" y="145.3" width="1.04" height="11.0" fill="#089981"/>
<rect x="779.48" y="145.3" width="5.1" height="1.7" fill="#089981"/>
<rect x="787.78" y="118.0" width="1.04" height="26.5" fill="#089981"/>
<rect x="785.75" y="120.0" width="5.1" height="24.5" fill="#089981"/>
</g>
<g>
<rect x="-3.58" y="447.5" width="5.35" height="40.5" fill="rgba(38,166,154,0.5)"/>
<rect x="2.69" y="453.7" width="5.35" height="34.3" fill="rgba(247,82,95,0.5)"/>
<rect x="8.95" y="460.0" width="5.35" height="28.0" fill="rgba(247,82,95,0.5)"/>
<rect x="15.21" y="458.0" width="5.35" height="30.0" fill="rgba(38,166,154,0.5)"/>
<rect x="21.48" y="455.0" width="5.35" height="33.0" fill="rgba(38,166,154,0.5)"/>
<rect x="27.74" y="462.0" width="5.35" height="26.0" fill="rgba(247,82,95,0.5)"/>
<rect x="34.00" y="452.0" width="5.35" height="36.0" fill="rgba(38,166,154,0.5)"/>
<rect x="40.27" y="428.3" width="5.35" height="59.7" fill="rgba(38,166,154,0.5)"/>
<rect x="46.53" y="450.0" width="5.35" height="38.0" fill="rgba(38,166,154,0.5)"/>
<rect x="52.79" y="432.0" width="5.35" height="56.0" fill="rgba(38,166,154,0.5)"/>
<rect x="59.06" y="434.2" width="5.35" height="53.8" fill="rgba(38,166,154,0.5)"/>
<rect x="65.32" y="423.0" width="5.35" height="65.0" fill="rgba(38,166,154,0.5)"/>
<rect x="71.58" y="439.2" width="5.35" height="48.8" fill="rgba(38,166,154,0.5)"/>
<rect x="77.85" y="432.0" width="5.35" height="56.0" fill="rgba(38,166,154,0.5)"/>
<rect x="84.11" y="430.3" width="5.35" height="57.7" fill="rgba(247,82,95,0.5)"/>
<rect x="90.37" y="427.0" width="5.35" height="61.0" fill="rgba(247,82,95,0.5)"/>
<rect x="96.64" y="429.2" width="5.35" height="58.8" fill="rgba(38,166,154,0.5)"/>
<rect x="102.90" y="423.7" width="5.35" height="64.3" fill="rgba(38,166,154,0.5)"/>
<rect x="109.16" y="421.3" width="5.35" height="66.7" fill="rgba(247,82,95,0.5)"/>
<rect x="115.43" y="425.0" width="5.35" height="63.0" fill="rgba(247,82,95,0.5)"/>
<rect x="121.69" y="432.0" width="5.35" height="56.0" fill="rgba(38,166,154,0.5)"/>
<rect x="127.95" y="422.0" width="5.35" height="66.0" fill="rgba(247,82,95,0.5)"/>
<rect x="134.22" y="425.0" width="5.35" height="63.0" fill="rgba(38,166,154,0.5)"/>
<rect x="140.48" y="423.5" width="5.35" height="64.5" fill="rgba(38,166,154,0.5)"/>
<rect x="146.75" y="407.0" width="5.35" height="81.0" fill="rgba(38,166,154,0.5)"/>
<rect x="153.01" y="368.0" width="5.35" height="120.0" fill="rgba(247,82,95,0.5)"/>
<rect x="159.27" y="414.2" width="5.35" height="73.8" fill="rgba(38,166,154,0.5)"/>
<rect x="165.54" y="412.5" width="5.35" height="75.5" fill="rgba(247,82,95,0.5)"/>
<rect x="171.80" y="425.0" width="5.35" height="63.0" fill="rgba(247,82,95,0.5)"/>
<rect x="178.06" y="432.0" width="5.35" height="56.0" fill="rgba(38,166,154,0.5)"/>
<rect x="184.33" y="366.2" width="5.35" height="121.8" fill="rgba(247,82,95,0.5)"/>
<rect x="190.59" y="427.8" width="5.35" height="60.2" fill="rgba(38,166,154,0.5)"/>
<rect x="196.85" y="414.5" width="5.35" height="73.5" fill="rgba(247,82,95,0.5)"/>
<rect x="203.12" y="405.3" width="5.35" height="82.7" fill="rgba(247,82,95,0.5)"/>
<rect x="209.38" y="415.0" width="5.35" height="73.0" fill="rgba(38,166,154,0.5)"/>
<rect x="215.64" y="416.2" width="5.35" height="71.8" fill="rgba(38,166,154,0.5)"/>
<rect x="221.91" y="403.3" width="5.35" height="84.7" fill="rgba(247,82,95,0.5)"/>
<rect x="228.17" y="408.3" width="5.35" height="79.7" fill="rgba(38,166,154,0.5)"/>
<rect x="234.43" y="396.3" width="5.35" height="91.7" fill="rgba(247,82,95,0.5)"/>
<rect x="240.70" y="419.2" width="5.35" height="68.8" fill="rgba(247,82,95,0.5)"/>
<rect x="246.96" y="406.2" width="5.35" height="81.8" fill="rgba(38,166,154,0.5)"/>
<rect x="253.22" y="384.7" width="5.35" height="103.3" fill="rgba(38,166,154,0.5)"/>
<rect x="259.49" y="413.3" width="5.35" height="74.7" fill="rgba(38,166,154,0.5)"/>
<rect x="265.75" y="386.7" width="5.35" height="101.3" fill="rgba(247,82,95,0.5)"/>
<rect x="272.02" y="422.2" width="5.35" height="65.8" fill="rgba(247,82,95,0.5)"/>
<rect x="278.28" y="432.0" width="5.35" height="56.0" fill="rgba(38,166,154,0.5)"/>
<rect x="284.54" y="421.0" width="5.35" height="67.0" fill="rgba(247,82,95,0.5)"/>
<rect x="290.81" y="437.2" width="5.35" height="50.8" fill="rgba(38,166,154,0.5)"/>
<rect x="297.07" y="421.2" width="5.35" height="66.8" fill="rgba(247,82,95,0.5)"/>
<rect x="303.33" y="430.8" width="5.35" height="57.2" fill="rgba(247,82,95,0.5)"/>
<rect x="309.60" y="429.0" width="5.35" height="59.0" fill="rgba(38,166,154,0.5)"/>
<rect x="315.86" y="413.0" width="5.35" height="75.0" fill="rgba(247,82,95,0.5)"/>
<rect x="322.12" y="407.5" width="5.35" height="80.5" fill="rgba(247,82,95,0.5)"/>
<rect x="328.39" y="441.7" width="5.35" height="46.3" fill="rgba(38,166,154,0.5)"/>
<rect x="334.65" y="450.0" width="5.35" height="38.0" fill="rgba(247,82,95,0.5)"/>
<rect x="340.91" y="433.0" width="5.35" height="55.0" fill="rgba(38,166,154,0.5)"/>
<rect x="347.18" y="441.7" width="5.35" height="46.3" fill="rgba(38,166,154,0.5)"/>
<rect x="353.44" y="437.0" width="5.35" height="51.0" fill="rgba(38,166,154,0.5)"/>
<rect x="359.70" y="432.0" width="5.35" height="56.0" fill="rgba(247,82,95,0.5)"/>
<rect x="365.97" y="443.8" width="5.35" height="44.2" fill="rgba(247,82,95,0.5)"/>
<rect x="372.23" y="448.0" width="5.35" height="40.0" fill="rgba(247,82,95,0.5)"/>
<rect x="378.50" y="448.0" width="5.35" height="40.0" fill="rgba(247,82,95,0.5)"/>
<rect x="384.76" y="436.2" width="5.35" height="51.8" fill="rgba(247,82,95,0.5)"/>
<rect x="391.02" y="457.5" width="5.35" height="30.5" fill="rgba(38,166,154,0.5)"/>
<rect x="397.29" y="444.2" width="5.35" height="43.8" fill="rgba(38,166,154,0.5)"/>
<rect x="403.55" y="446.0" width="5.35" height="42.0" fill="rgba(38,166,154,0.5)"/>
<rect x="409.81" y="446.3" width="5.35" height="41.7" fill="rgba(247,82,95,0.5)"/>
<rect x="416.08" y="450.8" width="5.35" height="37.2" fill="rgba(38,166,154,0.5)"/>
<rect x="422.34" y="440.0" width="5.35" height="48.0" fill="rgba(247,82,95,0.5)"/>
<rect x="428.60" y="457.0" width="5.35" height="31.0" fill="rgba(38,166,154,0.5)"/>
<rect x="434.87" y="454.2" width="5.35" height="33.8" fill="rgba(247,82,95,0.5)"/>
<rect x="441.13" y="450.8" width="5.35" height="37.2" fill="rgba(247,82,95,0.5)"/>
<rect x="447.39" y="441.7" width="5.35" height="46.3" fill="rgba(38,166,154,0.5)"/>
<rect x="453.66" y="451.3" width="5.35" height="36.7" fill="rgba(247,82,95,0.5)"/>
<rect x="459.92" y="441.7" width="5.35" height="46.3" fill="rgba(247,82,95,0.5)"/>
<rect x="466.18" y="440.0" width="5.35" height="48.0" fill="rgba(38,166,154,0.5)"/>
<rect x="472.45" y="442.2" width="5.35" height="45.8" fill="rgba(38,166,154,0.5)"/>
<rect x="478.71" y="432.0" width="5.35" height="56.0" fill="rgba(38,166,154,0.5)"/>
<rect x="484.97" y="420.0" width="5.35" height="68.0" fill="rgba(247,82,95,0.5)"/>
<rect x="491.24" y="437.2" width="5.35" height="50.8" fill="rgba(247,82,95,0.5)"/>
<rect x="497.50" y="438.0" width="5.35" height="50.0" fill="rgba(38,166,154,0.5)"/>
<rect x="503.76" y="432.0" width="5.35" height="56.0" fill="rgba(247,82,95,0.5)"/>
<rect x="510.03" y="413.0" width="5.35" height="75.0" fill="rgba(247,82,95,0.5)"/>
<rect x="516.29" y="418.0" width="5.35" height="70.0" fill="rgba(38,166,154,0.5)"/>
<rect x="522.56" y="446.3" width="5.35" height="41.7" fill="rgba(247,82,95,0.5)"/>
<rect x="528.82" y="455.5" width="5.35" height="32.5" fill="rgba(38,166,154,0.5)"/>
<rect x="535.08" y="446.0" width="5.35" height="42.0" fill="rgba(247,82,95,0.5)"/>
<rect x="541.35" y="446.3" width="5.35" height="41.7" fill="rgba(247,82,95,0.5)"/>
<rect x="547.61" y="448.0" width="5.35" height="40.0" fill="rgba(38,166,154,0.5)"/>
<rect x="553.87" y="450.0" width="5.35" height="38.0" fill="rgba(247,82,95,0.5)"/>
<rect x="560.14" y="453.0" width="5.35" height="35.0" fill="rgba(247,82,95,0.5)"/>
<rect x="566.40" y="452.0" width="5.35" height="36.0" fill="rgba(247,82,95,0.5)"/>
<rect x="572.66" y="443.7" width="5.35" height="44.3" fill="rgba(247,82,95,0.5)"/>
<rect x="578.93" y="436.0" width="5.35" height="52.0" fill="rgba(38,166,154,0.5)"/>
<rect x="585.19" y="459.7" width="5.35" height="28.3" fill="rgba(38,166,154,0.5)"/>
<rect x="591.45" y="462.5" width="5.35" height="25.5" fill="rgba(247,82,95,0.5)"/>
<rect x="597.72" y="450.0" width="5.35" height="38.0" fill="rgba(247,82,95,0.5)"/>
<rect x="603.98" y="457.5" width="5.35" height="30.5" fill="rgba(247,82,95,0.5)"/>
<rect x="610.24" y="460.0" width="5.35" height="28.0" fill="rgba(38,166,154,0.5)"/>
<rect x="616.51" y="456.2" width="5.35" height="31.8" fill="rgba(38,166,154,0.5)"/>
<rect x="622.77" y="459.2" width="5.35" height="28.8" fill="rgba(247,82,95,0.5)"/>
<rect x="629.03" y="457.5" width="5.35" height="30.5" fill="rgba(38,166,154,0.5)"/>
<rect x="635.30" y="457.5" width="5.35" height="30.5" fill="rgba(38,166,154,0.5)"/>
<rect x="641.56" y="455.3" width="5.35" height="32.7" fill="rgba(38,166,154,0.5)"/>
<rect x="647.83" y="453.3" width="5.35" height="34.7" fill="rgba(247,82,95,0.5)"/>
<rect x="654.09" y="460.0" width="5.35" height="28.0" fill="rgba(38,166,154,0.5)"/>
<rect x="660.35" y="457.0" width="5.35" height="31.0" fill="rgba(38,166,154,0.5)"/>
<rect x="666.62" y="464.2" width="5.35" height="23.8" fill="rgba(38,166,154,0.5)"/>
<rect x="672.88" y="452.0" width="5.35" height="36.0" fill="rgba(247,82,95,0.5)"/>
<rect x="679.14" y="456.2" width="5.35" height="31.8" fill="rgba(38,166,154,0.5)"/>
<rect x="685.41" y="460.0" width="5.35" height="28.0" fill="rgba(247,82,95,0.5)"/>
<rect x="691.67" y="458.0" width="5.35" height="30.0" fill="rgba(38,166,154,0.5)"/>
<rect x="697.93" y="464.2" width="5.35" height="23.8" fill="rgba(38,166,154,0.5)"/>
<rect x="704.20" y="457.5" width="5.35" height="30.5" fill="rgba(38,166,154,0.5)"/>
<rect x="710.46" y="455.0" width="5.35" height="33.0" fill="rgba(38,166,154,0.5)"/>
<rect x="716.72" y="452.8" width="5.35" height="35.2" fill="rgba(38,166,154,0.5)"/>
<rect x="722.99" y="459.2" width="5.35" height="28.8" fill="rgba(247,82,95,0.5)"/>
<rect x="729.25" y="460.0" width="5.35" height="28.0" fill="rgba(247,82,95,0.5)"/>
<rect x="735.51" y="446.3" width="5.35" height="41.7" fill="rgba(247,82,95,0.5)"/>
<rect x="741.78" y="464.2" width="5.35" height="23.8" fill="rgba(247,82,95,0.5)"/>
<rect x="748.04" y="464.7" width="5.35" height="23.3" fill="rgba(247,82,95,0.5)"/>
<rect x="754.31" y="450.0" width="5.35" height="38.0" fill="rgba(247,82,95,0.5)"/>
<rect x="760.57" y="460.0" width="5.35" height="28.0" fill="rgba(38,166,154,0.5)"/>
<rect x="766.83" y="453.3" width="5.35" height="34.7" fill="rgba(38,166,154,0.5)"/>
<rect x="773.10" y="464.7" width="5.35" height="23.3" fill="rgba(247,82,95,0.5)"/>
<rect x="779.36" y="465.0" width="5.35" height="23.0" fill="rgba(38,166,154,0.5)"/>
<rect x="785.62" y="457.5" width="5.35" height="30.5" fill="rgba(38,166,154,0.5)"/>
</g>
</svg>
<div class="pl" style="top:21px">1800.00</div><div class="pl" style="top:59px">1760.00</div><div class="pl" style="top:97px">1720.00</div><div class="pl" style="top:135px">1680.00</div><div class="pl" style="top:173px">1640.00</div><div class="pl" style="top:211px">1600.00</div><div class="pl" style="top:249px">1560.00</div><div class="pl" style="top:287px">1520.00</div><div class="pl" style="top:325px">1480.00</div><div class="pl" style="top:363px">1440.00</div><div class="pl" style="top:401px">1400.00</div><div class="pl" style="top:439px">1360.00</div><div class="pl" style="top:477px">1320.00</div>
<div class="tag" style="top:110.5px;height:18.5px;line-height:18.5px;background:#089981;border-radius:2px 2px 0 0">1704.31</div>
<div class="tag" style="top:129px;height:18px;line-height:18px;background:#2196F3">1697.94</div>
<div class="tag" style="top:147px;height:18px;line-height:18px;background:#FF9800;color:#000">1678.61</div>
<div class="tag" style="top:165px;height:17px;line-height:17px;background:#2B24F5;border-radius:0 0 2px 2px">1661.61</div>
<div class="tag" style="top:448px;height:19px;line-height:20.2px;width:67.2px;background:#26A69A;border-radius:2px;padding-left:8.6px;letter-spacing:0.02px">658.321M</div>
<div id="logo"><svg width="22.6" height="11.3" viewBox="0 4 36 18" style="position:absolute;left:5.4px;top:12.1px"><path d="M14 22H7V11H0V4h14v18zM28 22h-8l7.5-18h8L28 22z" fill="#131722"/><circle cx="20.7" cy="7.4" r="3.0" fill="#131722"/></svg></div>
<div id="bottom"></div><div style="position:absolute;left:829.4px;top:488px;width:1.2px;height:1px;background:#B9BBC2"></div>
<div class="tl" style="left:29.9px;letter-spacing:-0.28px">Tháng 7</div>
<div class="tl" style="left:174.4px;letter-spacing:-0.37px">Tháng Tám</div>
<div class="tl" style="left:305.7px;letter-spacing:-0.32px">Tháng 9</div>
<div class="tl" style="left:431.1px;letter-spacing:-0.13px">Tháng 10</div>
<div class="tl" style="left:575.4px;letter-spacing:-0.31px">Tháng 11</div>
<div class="tl" style="left:700.9px;letter-spacing:-0.15px">Tháng Mười hai</div>
<svg width="16" height="16" viewBox="0 0 16 16" style="position:absolute;left:858px;top:495px"><path d="M4.4 1.6h7.2L15.3 8l-3.7 6.4H4.4L.7 8z" fill="none" stroke="#131722" stroke-width="1.1" stroke-linejoin="round"/><circle cx="8" cy="8" r="2.2" fill="none" stroke="#131722" stroke-width="1.1"/></svg>
</body></html>
